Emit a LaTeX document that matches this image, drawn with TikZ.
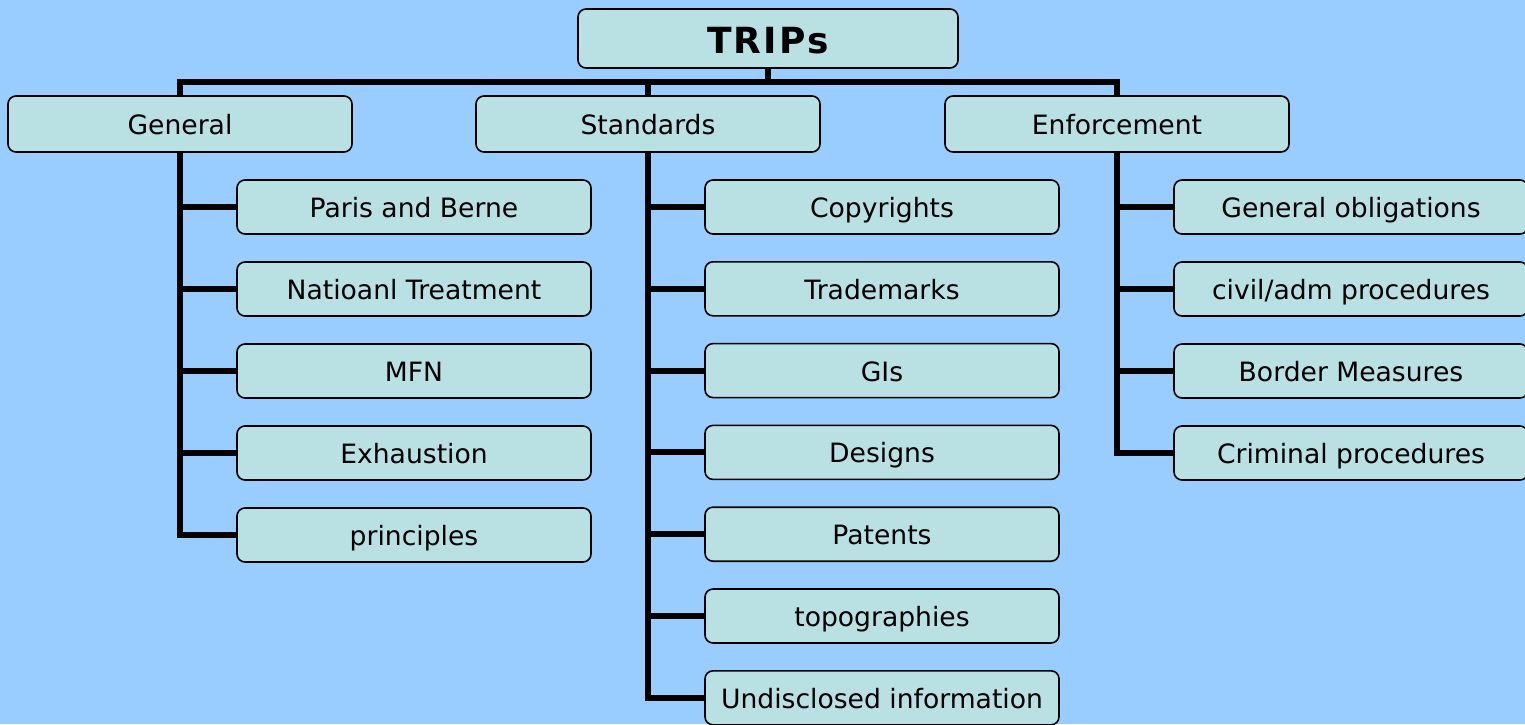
\documentclass[tikz,border=0pt]{standalone}
\usepackage{fontspec}
\setmainfont{DejaVu Sans}
\newfontfamily\tripsfont[LetterSpace=6]{DejaVu Sans}
\definecolor{bgblue}{HTML}{99CCFF}
\definecolor{boxfill}{HTML}{B9E0E3}
\begin{document}
\begin{tikzpicture}[x=1pt,y=-1pt,
  box/.style={draw=black,line width=1.6pt,fill=boxfill,rounded corners=8pt,
    minimum width=354pt,minimum height=54pt,inner sep=0pt,
    font=\fontsize{26.6}{30}\selectfont,text height=24pt,text depth=3pt},
  topbox/.style={box,minimum width=344pt,minimum height=56pt},
  conn/.style={line width=6pt,draw=black}]
\fill[bgblue] (0,0) rectangle (1525,724);
\useasboundingbox (0,0) rectangle (1525,724);
\clip (0,0) rectangle (1525,724);
\coordinate (bar) at (768,82);
\path
  node[box,minimum width=380pt,minimum height=59pt,font=\tripsfont\fontsize{36}{40}\selectfont\bfseries,text height=30pt,text depth=1pt] (trips) at (768,38.5) {TRIPs}
  node[topbox] (general) at (180,124) {General}
  node[topbox] (standards) at (648,124) {Standards}
  node[topbox] (enforcement) at (1117,124) {Enforcement};
\draw[conn] (trips.south) -- (bar);
\draw[conn] (general.north) |- (bar) -| (enforcement.north);
\draw[conn] (standards.north) -- (standards.north |- bar);
\foreach \t [count=\i] in {Paris and Berne,Natioanl Treatment,MFN,Exhaustion,principles}{
  \node[box] (g\i) at (414,{207+82*(\i-1)}) {\t};
}
\foreach \t [count=\i] in {Copyrights,Trademarks,GIs,Designs,Patents,topographies,Undisclosed information}{
  \node[box] (s\i) at (882,{207+82*(\i-1)-0.2*(\i-1)}) {\t};
}
\foreach \t [count=\i] in {General obligations,civil/adm procedures,Border Measures,Criminal procedures}{
  \node[box] (e\i) at (1351,{207+82*(\i-1)}) {\t};
}
\draw[conn] (general.south) |- (g5.west);
\foreach \i in {1,...,4} \draw[conn] (general.south |- g\i.west) -- (g\i.west);
\draw[conn] (standards.south) |- (s7.west);
\foreach \i in {1,...,6} \draw[conn] (standards.south |- s\i.west) -- (s\i.west);
\draw[conn] (enforcement.south) |- (e4.west);
\foreach \i in {1,...,3} \draw[conn] (enforcement.south |- e\i.west) -- (e\i.west);
\end{tikzpicture}
\end{document}
